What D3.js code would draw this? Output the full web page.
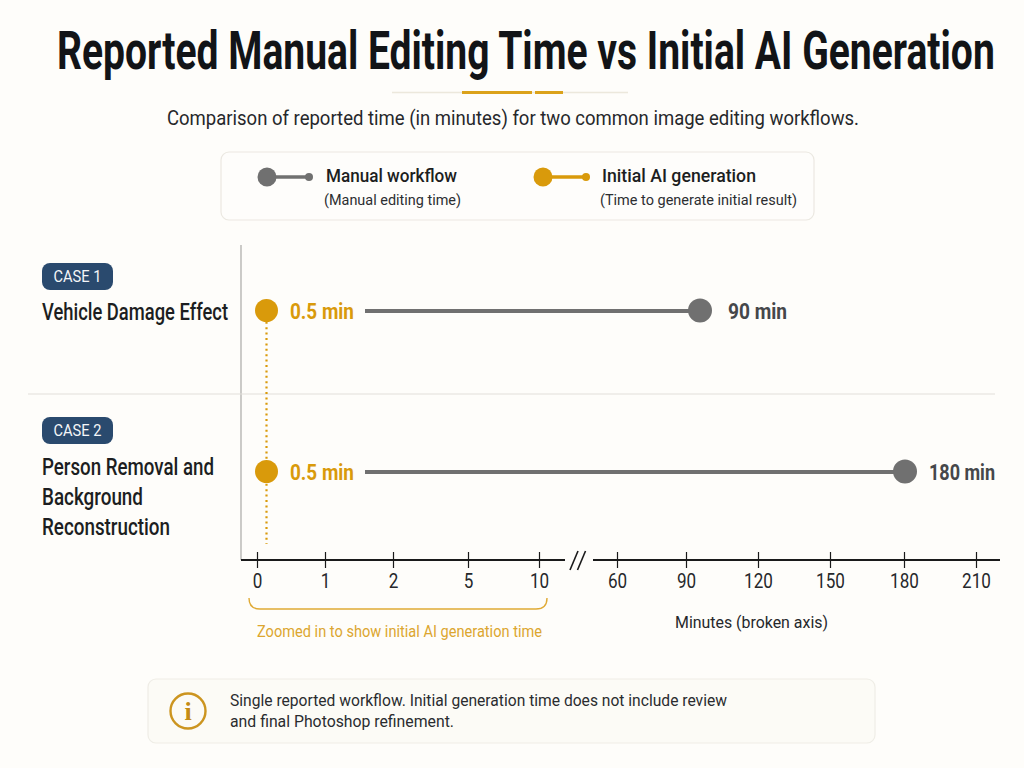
<!DOCTYPE html>
<html><head><meta charset="utf-8">
<script src="https://cdnjs.cloudflare.com/ajax/libs/d3/7.8.5/d3.min.js"></script>
<style>html,body{margin:0;padding:0;background:#fefdfa}svg{display:block}text{font-family:Roboto,sans-serif}</style>
</head><body><svg id="c" width="1024" height="768"></svg>
<script>
const caseBadges=["CASE 1","CASE 2"];
const caseNames=[["Vehicle Damage Effect"],["Person Removal and","Background","Reconstruction"]];
const manualMinutes=[90,180];
const aiMinutes=[0.5,0.5];
const lowTicks=[0,1,2,5,10];
const highTicks=[60,90,120,150,180,210];
const tickPixels=[257,325,393,468,539,617,686,758,830,904,976];
const markKnots=[0.5,90,180];
const markPixels=[266.5,700,905];
const GRAY="#707070",GOLD="#d99a0b",INK="#1c1e21";

const svg=d3.select("#c");
const xAxisScale=d3.scaleLinear().domain(lowTicks.concat(highTicks)).range(tickPixels);
// the reference places its dots slightly off its own ticks, so marks have their own scale
const xMark=d3.scaleLinear().domain(markKnots).range(markPixels);
const rowY=d3.scalePoint().domain(caseBadges).range([311,472]);

function t(x,y,s,size,weight,fill,w,anchor){
  const n=svg.append("text").attr("x",x).attr("y",y).text(s).attr("font-size",size)
   .attr("font-weight",weight).attr("fill",fill).attr("text-anchor",anchor||"start");
  if(w)n.attr("textLength",w).attr("lengthAdjust","spacingAndGlyphs");
  return n;
}
// header: condensed with a transform so the natural text width never passes the page edge
const title=svg.append("text").attr("transform","translate(57,69)").attr("font-size",53).attr("font-weight",700).attr("fill","#121417")
  .text("Reported Manual Editing Time vs Initial AI Generation");
const titleW=title.node().getComputedTextLength();
title.attr("transform","translate(57,69) scale("+(938/titleW)+",1)");
svg.append("line").attr("x1",392).attr("x2",628).attr("y1",92.5).attr("y2",92.5).attr("stroke","#ece8dc").attr("stroke-width",1.5);
[[462,532],[535,563]].forEach(d=>svg.append("line").attr("x1",d[0]).attr("x2",d[1]).attr("y1",92.5).attr("y2",92.5).attr("stroke","#dba21a").attr("stroke-width",3));
t(167,125,"Comparison of reported time (in minutes) for two common image editing workflows.",19.5,400,"#26282b",692);

// legend
svg.append("rect").attr("x",221).attr("y",152).attr("width",593).attr("height",68).attr("rx",8).attr("fill","#fefdfb").attr("stroke","#ebe8e1").attr("stroke-width",1.2);
[{x:267,e:309,c:GRAY,a:"Manual workflow",ax:326,aw:131,b:"(Manual editing time)",bx:324,bw:137},
 {x:543,e:586,c:GOLD,a:"Initial AI generation",ax:602,aw:154,b:"(Time to generate initial result)",bx:600,bw:197}].forEach(d=>{
  svg.append("line").attr("x1",d.x).attr("x2",d.e).attr("y1",177).attr("y2",177).attr("stroke",d.c).attr("stroke-width",3.5);
  svg.append("circle").attr("cx",d.x).attr("cy",177).attr("r",9.5).attr("fill",d.c);
  svg.append("circle").attr("cx",d.e).attr("cy",177).attr("r",4).attr("fill",d.c);
  t(d.ax,182,d.a,19,500,INK,d.aw);
  t(d.bx,205,d.b,14.5,400,"#2c2e31",d.bw);
});

// frame
svg.append("line").attr("x1",241).attr("x2",241).attr("y1",245).attr("y2",560).attr("stroke","#a9a9a6").attr("stroke-width",1.2);
svg.append("line").attr("x1",28).attr("x2",995).attr("y1",394).attr("y2",394).attr("stroke","#e2e0da").attr("stroke-width",1.2);

// axis
const axis=svg.append("g").attr("transform","translate(0,560)")
  .call(d3.axisBottom(xAxisScale).tickValues(lowTicks.concat(highTicks)).tickFormat(d3.format("d")).tickSize(8));
axis.select(".domain").remove();
axis.selectAll(".tick line").attr("y1",-8).attr("y2",8).attr("stroke","#1a1a1a").attr("stroke-width",1.2);
axis.selectAll(".tick text").attr("y",28).attr("dy",0).attr("font-size",20).attr("font-family","Roboto,sans-serif").attr("fill","#26282b")
  .each(function(d){d3.select(this).attr("textLength",String(d).length*9.6).attr("lengthAdjust","spacingAndGlyphs")});
[[241,565],[593,1000]].forEach(d=>svg.append("line").attr("x1",d[0]).attr("x2",d[1]).attr("y1",560).attr("y2",560).attr("stroke","#1a1a1a").attr("stroke-width",1.8));
[570,577.5].forEach(x=>svg.append("line").attr("x1",x).attr("x2",x+8).attr("y1",570).attr("y2",551).attr("stroke","#1a1a1a").attr("stroke-width",1.6));

// zoom brace
svg.append("path").attr("d","M249,598 Q249,609 260,609 L536,609 Q547,609 547,598").attr("fill","none").attr("stroke","#e0aa35").attr("stroke-width",1.4);
t(257,637,"Zoomed in to show initial AI generation time",16.5,400,"#dca62f",285);
t(675,628,"Minutes (broken axis)",17,400,"#26282b",153);

// dotted guide
svg.append("line").attr("x1",xMark(aiMinutes[0])).attr("x2",xMark(aiMinutes[1])).attr("y1",rowY(caseBadges[0])).attr("y2",544)
  .attr("stroke",GOLD).attr("stroke-width",2.2).attr("stroke-dasharray","2 3.4");

// rows
const nameBase=[[320],[475,505,535]];
const nameW=[[186],[172,101,128]];
const badgeTop=[263,417];
const valueW=[59,66];
caseBadges.forEach((b,i)=>{
  svg.append("rect").attr("x",42).attr("y",badgeTop[i]).attr("width",71).attr("height",27).attr("rx",8).attr("fill","#2a4a6e");
  t(77.5,badgeTop[i]+19,b,16.5,400,"#f4f6f8",48,"middle");
  caseNames[i].forEach((s,j)=>t(42,nameBase[i][j],s,23,500,INK,nameW[i][j]));
  const y=rowY(b),xa=xMark(aiMinutes[i]),xm=xMark(manualMinutes[i]);
  svg.append("line").attr("x1",xa+98.5).attr("x2",xm).attr("y1",y).attr("y2",y).attr("stroke",GRAY).attr("stroke-width",4);
  svg.append("circle").attr("cx",xm).attr("cy",y-0.5).attr("r",12).attr("fill",GRAY);
  svg.append("circle").attr("cx",xa).attr("cy",y-0.5).attr("r",11.5).attr("fill",GOLD);
  t(xa+23.5,y+7.5,aiMinutes[i]+" min",22,700,GOLD,64);
  t(xm+(i?24:28),y+7.5,manualMinutes[i]+" min",22,700,"#45474a",valueW[i]);
});

// note
svg.append("rect").attr("x",148).attr("y",679).attr("width",727).attr("height",64).attr("rx",8).attr("fill","#fcfbf6").attr("stroke","#efede6").attr("stroke-width",1.2);
svg.append("circle").attr("cx",188).attr("cy",711).attr("r",17.5).attr("fill","none").attr("stroke","#cc9520").attr("stroke-width",2.4);
t(188,720,"i",26,700,"#c48c14",null,"middle").style("font-family","'Liberation Serif',serif");
t(230,706,"Single reported workflow. Initial generation time does not include review",16,400,"#2a2c2f",497);
t(230,727,"and final Photoshop refinement.",16,400,"#2a2c2f",224);
</script></body></html>
